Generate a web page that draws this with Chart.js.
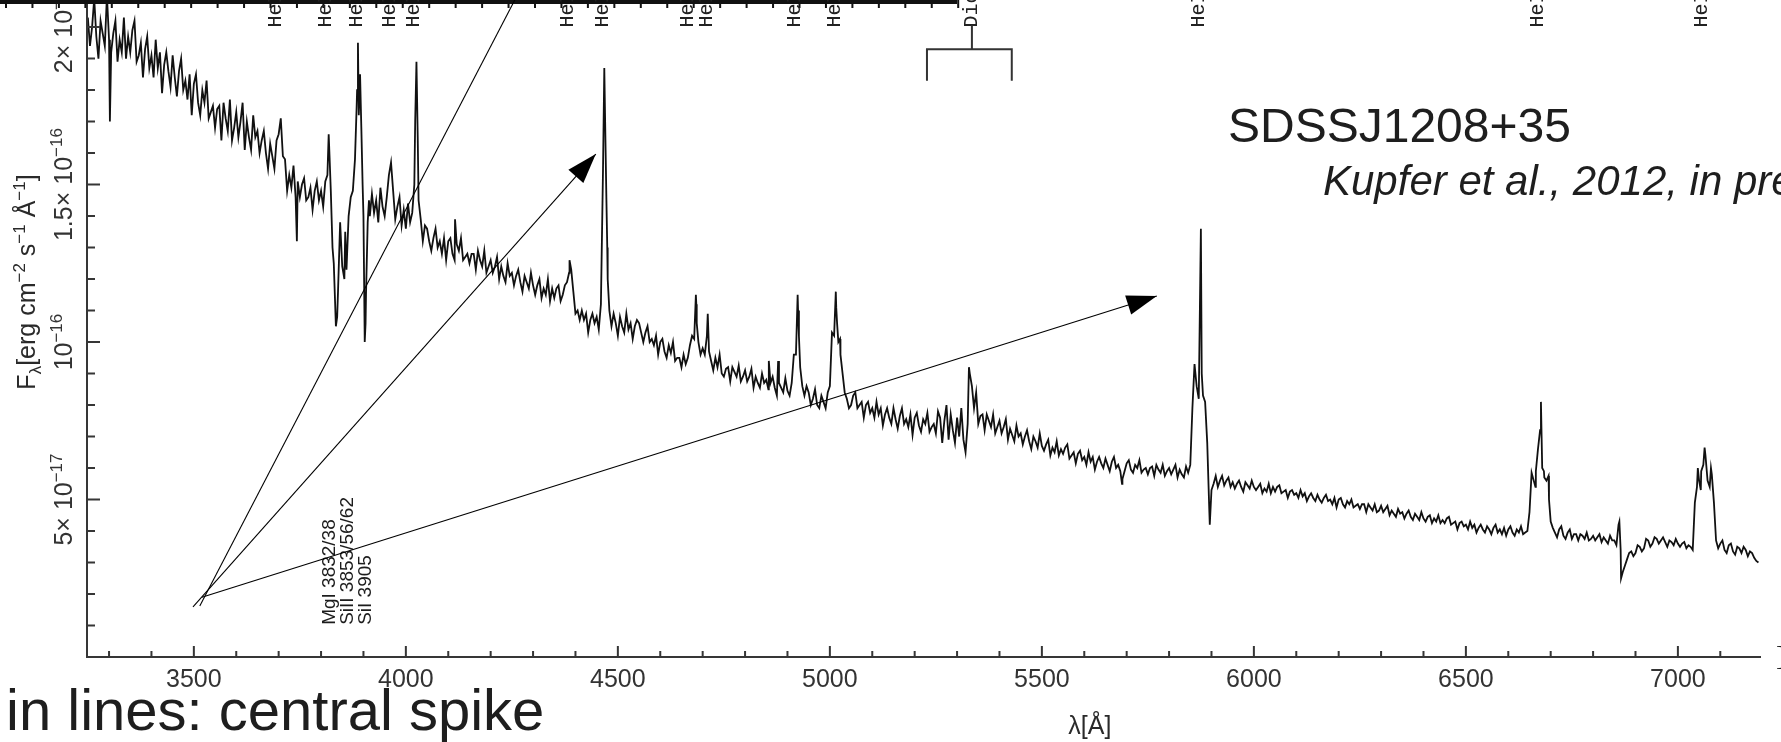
<!DOCTYPE html>
<html>
<head>
<meta charset="utf-8">
<script src="https://cdn.jsdelivr.net/npm/chart.js@4.4.1/dist/chart.umd.min.js"></script>
<style>
html, body { margin: 0; padding: 0; background: #fff; }
canvas { display: block; }
</style>
</head>
<body>
<canvas id="espectro" width="1781" height="742"></canvas>
<script>
// flux in units of 1e-17 erg cm^-2 s^-1 A^-1, one value every 5 A from 3250 A (20 per row = 100 A)
const waveStart = 3250;
const waveStep = 5;
const flux = [
  20.3, 19.4, 20.0, 20.9, 19.7, 19.0, 20.2, 19.8, 19.4, 21.0, 19.6, 19.2, 19.8, 20.2, 18.9, 19.6, 19.2, 20.3, 19.0, 19.7,
  19.2, 19.9, 20.2, 18.9, 19.1, 19.5, 18.4, 19.3, 19.7, 18.7, 19.1, 18.4, 19.6, 18.7, 19.2, 17.9, 18.8, 19.2, 18.6, 18.1,
  19.1, 18.4, 17.8, 18.6, 19.0, 18.0, 18.3, 17.7, 18.5, 17.2, 18.2, 18.5, 17.6, 17.2, 18.0, 17.6, 18.3, 17.1, 17.3, 17.5,
  16.8, 17.4, 17.5, 16.4, 17.6, 17.1, 16.7, 17.7, 16.4, 16.8, 17.3, 16.5, 17.0, 17.6, 16.1, 17.0, 16.5, 16.1, 17.2, 16.5,
  16.7, 16.0, 16.4, 16.7, 16.0, 15.5, 16.3, 15.9, 15.5, 16.4, 16.6, 17.1, 15.9, 15.8, 14.8, 15.3, 14.9, 15.6, 14.6, 15.1,
  14.6, 15.0, 15.2, 14.5, 14.6, 14.9, 14.2, 14.8, 15.1, 14.5, 14.8, 14.3, 15.1, 15.3, 15.9, 13.9, 12.5, 10.5, 11.6, 13.8,
  12.4, 12.0, 12.3, 14.0, 14.6, 14.8, 15.8, 18.0, 17.6, 16.8, 14.0, 10.6, 13.8, 14.0, 14.7, 14.1, 14.5, 13.8, 14.9, 14.3,
  14.0, 14.6, 15.3, 15.7, 14.8, 13.9, 14.3, 14.6, 13.7, 14.2, 13.6, 14.4, 13.8, 14.1, 15.0, 18.9, 14.5, 13.9, 13.2, 13.7,
  13.6, 13.2, 12.9, 13.3, 13.6, 13.0, 13.2, 12.8, 13.3, 12.6, 13.2, 13.3, 12.8, 12.6, 13.1, 12.9, 13.3, 12.6, 12.7, 12.8,
  12.5, 12.8, 12.8, 12.3, 12.9, 12.6, 12.4, 12.9, 12.2, 12.4, 12.6, 12.2, 12.4, 12.7, 12.0, 12.4, 12.1, 11.9, 12.5, 12.1,
  12.2, 11.8, 12.1, 12.3, 11.9, 11.6, 12.1, 11.9, 11.7, 12.2, 11.8, 11.5, 11.8, 12.0, 11.4, 11.7, 11.5, 12.0, 11.3, 11.7,
  11.4, 11.7, 11.8, 11.3, 11.5, 11.8, 11.9, 12.2, 12.3, 11.6, 10.9, 11.0, 10.7, 11.0, 10.7, 10.9, 10.3, 10.7, 10.9, 10.6,
  10.8, 10.4, 11.2, 15.5, 17.0, 13.0, 11.0, 10.5, 10.9, 10.6, 10.2, 10.8, 10.5, 10.3, 10.9, 10.4, 10.6, 10.1, 10.5, 10.7,
  10.6, 10.3, 10.0, 10.3, 10.5, 10.0, 10.1, 9.9, 10.2, 9.6, 10.0, 10.1, 9.7, 9.5, 9.9, 9.65, 10.0, 9.4, 9.5, 9.5,
  9.2, 9.6, 9.3, 9.5, 9.9, 10.2, 10.1, 11.2, 10.0, 9.6, 9.8, 9.6, 10.2, 9.7, 9.4, 9.1, 9.5, 9.2, 9.6, 9.0,
  8.9, 9.15, 9.2, 8.75, 9.2, 9.05, 8.9, 9.25, 8.75, 8.9, 9.1, 8.75, 8.9, 9.15, 8.55, 8.9, 8.7, 8.55, 9.0, 8.7,
  8.8, 8.5, 8.7, 8.9, 8.55, 8.3, 8.7, 8.55, 8.4, 8.85, 8.45, 8.3, 8.7, 9.6, 9.6, 11.0, 9.2, 8.6, 8.3, 8.6,
  8.4, 8.0, 8.2, 8.5, 8.0, 7.9, 8.3, 8.1, 7.9, 8.4, 8.6, 10.3, 10.2, 11.1, 10.0, 9.6, 9.0, 8.4, 8.2, 7.9,
  8.0, 8.3, 8.4, 7.9, 8.0, 8.1, 7.6, 8.0, 8.1, 7.75, 7.9, 7.6, 8.1, 7.7, 7.9, 7.35, 7.7, 7.9, 7.6, 7.4,
  7.9, 7.55, 7.25, 7.65, 7.9, 7.4, 7.55, 7.3, 7.7, 7.05, 7.6, 7.75, 7.35, 7.15, 7.55, 7.4, 7.75, 7.15, 7.3, 7.4,
  7.1, 7.8, 7.6, 6.8, 7.5, 8.0, 6.9, 7.7, 7.2, 6.8, 7.6, 7.0, 7.9, 6.9, 6.5, 7.4, 9.0, 8.6, 7.9, 8.4,
  7.4, 7.65, 7.7, 7.2, 7.7, 7.5, 7.3, 7.7, 7.1, 7.3, 7.5, 7.1, 7.3, 7.55, 6.9, 7.25, 7.05, 6.85, 7.35, 7.0,
  7.1, 6.75, 7.0, 7.2, 6.85, 6.6, 7.0, 6.85, 6.65, 7.1, 6.7, 6.55, 6.75, 6.9, 6.4, 6.65, 6.5, 6.85, 6.4, 6.6,
  6.45, 6.65, 6.75, 6.3, 6.4, 6.5, 6.15, 6.45, 6.55, 6.25, 6.35, 6.1, 6.5, 6.2, 6.35, 5.95, 6.2, 6.35, 6.15, 6.0,
  6.3, 6.1, 5.9, 6.2, 6.35, 6.0, 6.1, 5.9, 5.65, 5.9, 6.15, 6.25, 5.95, 5.85, 6.1, 6.0, 6.25, 5.85, 5.95, 6.0,
  5.8, 6.0, 6.05, 5.75, 6.1, 5.95, 5.85, 6.1, 5.75, 5.9, 6.0, 5.8, 5.95, 6.1, 5.7, 5.95, 5.8, 5.7, 6.05, 5.85,
  6.1, 7.9, 9.3, 8.6, 8.2, 13.6, 8.3, 8.1, 6.8, 4.6, 5.3, 5.5, 5.75, 5.4, 5.6, 5.75, 5.45, 5.6, 5.7, 5.4,
  5.55, 5.35, 5.5, 5.6, 5.4, 5.25, 5.55, 5.45, 5.35, 5.6, 5.4, 5.3, 5.4, 5.5, 5.2, 5.35, 5.25, 5.5, 5.2, 5.4,
  5.25, 5.4, 5.45, 5.2, 5.25, 5.3, 5.05, 5.25, 5.3, 5.15, 5.2, 5.05, 5.3, 5.1, 5.2, 4.95, 5.1, 5.2, 5.05, 4.95,
  5.15, 5.0, 4.9, 5.05, 5.15, 4.95, 5.0, 4.85, 5.05, 4.75, 5.0, 5.05, 4.85, 4.75, 4.95, 4.85, 5.0, 4.75, 4.8, 4.85,
  4.7, 4.85, 4.85, 4.6, 4.85, 4.75, 4.65, 4.85, 4.6, 4.65, 4.8, 4.6, 4.7, 4.8, 4.5, 4.65, 4.55, 4.45, 4.7, 4.55,
  4.6, 4.4, 4.55, 4.65, 4.45, 4.35, 4.55, 4.45, 4.35, 4.6, 4.4, 4.3, 4.45, 4.5, 4.25, 4.4, 4.3, 4.5, 4.25, 4.35,
  4.25, 4.4, 4.45, 4.2, 4.25, 4.3, 4.05, 4.25, 4.3, 4.15, 4.2, 4.05, 4.3, 4.1, 4.2, 3.95, 4.1, 4.2, 4.05, 3.95,
  4.15, 4.05, 3.9, 4.1, 4.2, 3.95, 4.05, 3.9, 4.1, 3.85, 4.05, 4.15, 3.95, 3.85, 4.05, 3.95, 4.15, 3.9, 3.95, 4.0,
  4.6, 5.85, 5.6, 5.9, 6.6, 7.2, 6.0, 5.7, 5.6, 5.75, 4.3, 4.1, 3.95, 3.8, 4.05, 4.15, 3.85, 3.75, 3.95, 4.05,
  3.75, 3.9, 3.9, 3.7, 3.9, 3.85, 3.75, 3.95, 3.7, 3.75, 3.85, 3.7, 3.8, 3.9, 3.65, 3.8, 3.7, 3.6, 3.85, 3.7,
  3.7, 3.55, 4.2, 3.4, 2.7, 2.9, 3.1, 3.3, 3.35, 3.2, 3.3, 3.55, 3.5, 3.35, 3.45, 3.75, 3.7, 3.5, 3.6, 3.8,
  3.75, 3.6, 3.7, 3.8, 3.65, 3.5, 3.7, 3.65, 3.55, 3.75, 3.6, 3.5, 3.6, 3.65, 3.45, 3.55, 3.5, 3.4, 4.9, 5.4,
  5.6, 5.9, 6.1, 6.4, 5.6, 5.4, 5.8, 4.9, 3.7, 3.45, 3.6, 3.7, 3.4, 3.3, 3.55, 3.6, 3.35, 3.25, 3.5, 3.45,
  3.3, 3.5, 3.4, 3.2, 3.35, 3.3, 3.15, 3.05, 3.0
];

// narrow emission / absorption structure between the 5 A samples
const lineWave = [3302, 3743, 3818, 3823, 3827, 3838, 3857, 3884, 3887, 3889, 3892, 3898, 3903,
  3906, 3913, 4022, 4028, 4116, 4386, 4468, 4473, 4476, 4684, 4686, 4712, 4856, 4878, 4924, 4927,
  5014, 5017, 5024, 5328, 5689, 5877, 5896, 6664, 6677, 6684, 6696, 6862, 6866,
  7047, 7054, 7063, 7078];
const lineFlux = [17.0, 13.2, 16.6, 14.8, 13.0, 10.8, 13.5, 17.5, 19.5, 17.2, 18.5, 15.0, 10.0,
  11.5, 14.5, 17.0, 16.5, 13.9, 12.6, 18.7, 14.5, 12.0, 11.5, 10.6, 10.9, 9.4, 9.4, 11.5, 10.2,
  11.6, 10.6, 10.1, 9.2, 5.5, 9.0, 4.2, 5.4, 8.1, 5.9, 5.0, 4.3, 2.5,
  6.0, 5.3, 6.65, 6.0];

const xTicks = [3500, 4000, 4500, 5000, 5500, 6000, 6500, 7000];
const yTicks = [5, 10, 15, 20];
const yTickText = [['5× 10', '−17'], ['10', '−16'], ['1.5× 10', '−16'], ['2× 10', '−16']];

// line identifications along the top
const idWave = [3693, 3811, 3884, 3962, 4019, 4382, 4465, 4665, 4710, 4917, 5012, 5870, 6670, 7057];
const idText = ['HeI', 'HeI', 'HeI', 'HeI', 'HeI', 'HeI', 'HeI', 'HeII', 'HeI', 'HeI', 'HeI', 'HeI', 'HeI', 'HeI'];
const metalWave = [3821, 3863, 3906];
const metalText = ['MgI 3832/38', 'SiII 3853/56/62', 'SiI 3905'];

// arrows pointing at the central spikes
const arrowFrom = [[3514, 1.62], [3498, 1.59], [3519, 1.90]];
const arrowTo = [[4270, 21.2], [4448, 15.97], [5771, 11.46]];
const arrowHead = [false, true, true];

const dichroic = { stem: 5335, left: 5229, right: 5429, top: 20.06, bar: 19.3, foot: 18.3 };

const spectrum = flux.map((f, i) => ({ x: waveStart + i * waveStep, y: f }))
  .concat(lineWave.map((w, i) => ({ x: w, y: lineFlux[i] })))
  .sort((a, b) => a.x - b.x);

const SANS = '"Liberation Sans", Arial, sans-serif';

function richText(ctx, parts, x, y, align) {
  // text turned 90 degrees counter-clockwise, parts = [text, size, shift]
  let total = 0;
  for (const p of parts) {
    ctx.font = p[1] + 'px ' + SANS;
    total += ctx.measureText(p[0]).width;
  }
  ctx.save();
  ctx.translate(x, y);
  ctx.rotate(-Math.PI / 2);
  ctx.textAlign = 'left';
  ctx.textBaseline = 'alphabetic';
  let cx = align === 'center' ? -total / 2 : 0;
  for (const p of parts) {
    ctx.font = p[1] + 'px ' + SANS;
    ctx.fillText(p[0], cx, p[2] || 0);
    cx += ctx.measureText(p[0]).width;
  }
  ctx.restore();
}

function arrow(ctx, x0, y0, x1, y1, head) {
  ctx.beginPath();
  ctx.moveTo(x0, y0);
  ctx.lineTo(x1, y1);
  ctx.stroke();
  if (!head) return;
  const ang = Math.atan2(y1 - y0, x1 - x0);
  const len = 30, half = 10;
  const bx = x1 - len * Math.cos(ang), by = y1 - len * Math.sin(ang);
  ctx.beginPath();
  ctx.moveTo(x1, y1);
  ctx.lineTo(bx + half * Math.sin(ang), by - half * Math.cos(ang));
  ctx.lineTo(bx - half * Math.sin(ang), by + half * Math.cos(ang));
  ctx.closePath();
  ctx.fill();
}

const decor = {
  id: 'decor',
  afterDatasetsDraw(chart) {
    const ctx = chart.ctx;
    const a = chart.chartArea;
    const px = v => chart.scales.x.getPixelForValue(v);
    const py = v => chart.scales.y.getPixelForValue(v);
    ctx.save();

    // axes with inward ticks
    ctx.strokeStyle = '#363636';
    ctx.lineWidth = 2;
    ctx.beginPath();
    ctx.moveTo(a.left, a.top);
    ctx.lineTo(a.left, a.bottom);
    ctx.lineTo(a.right, a.bottom);
    ctx.stroke();
    ctx.beginPath();
    for (let w = 3300; w <= 7100; w += 100) {
      const len = w % 500 === 0 ? 11 : 6;
      ctx.moveTo(px(w), a.bottom);
      ctx.lineTo(px(w), a.bottom - len);
    }
    for (let f = 1; f <= 20; f++) {
      const len = f % 5 === 0 ? 13 : 8;
      ctx.moveTo(a.left, py(f));
      ctx.lineTo(a.left + len, py(f));
    }
    ctx.stroke();

    // tick labels
    ctx.fillStyle = '#333';
    ctx.font = '25px ' + SANS;
    ctx.textAlign = 'center';
    ctx.textBaseline = 'alphabetic';
    xTicks.forEach(w => ctx.fillText(String(w), px(w), a.bottom + 30));
    yTicks.forEach((f, i) => {
      richText(ctx, [[yTickText[i][0], 25, 0], [yTickText[i][1], 17, -10]], 72, py(f), 'center');
    });

    // axis titles
    ctx.fillStyle = '#2a2a2a';
    ctx.font = '25px ' + SANS;
    ctx.textAlign = 'center';
    ctx.fillText('λ[Å]', px(5613), 734);
    richText(ctx, [
      ['F', 25, 0], ['λ', 17, 6], ['[erg cm', 25, 0], ['−2', 17, -10],
      [' s', 25, 0], ['−1', 17, -10], [' Å', 25, 0], ['−1', 17, -10], [']', 25, 0]
    ], 35, 282, 'center');

    // axis of the panel above
    ctx.fillStyle = '#111';
    ctx.fillRect(0, 0, 957, 4);
    for (let k = 0; k <= 36; k++) ctx.fillRect(5 + k * 26.45, 0, 2, 8);

    // line identifications
    ctx.fillStyle = '#222';
    ctx.font = '20px "Liberation Mono", monospace';
    ctx.textAlign = 'left';
    ctx.textBaseline = 'middle';
    idWave.forEach((w, i) => {
      ctx.save();
      ctx.translate(px(w), py(19.99));
      ctx.rotate(-Math.PI / 2);
      ctx.fillText(idText[i], 0, 0);
      ctx.restore();
    });
    ctx.save();
    ctx.translate(px(dichroic.stem), py(19.99));
    ctx.rotate(-Math.PI / 2);
    ctx.fillText('Dichroic', 0, 0);
    ctx.restore();

    ctx.strokeStyle = '#333';
    ctx.lineWidth = 2;
    ctx.beginPath();
    ctx.moveTo(px(dichroic.stem), py(dichroic.top));
    ctx.lineTo(px(dichroic.stem), py(dichroic.bar));
    ctx.moveTo(px(dichroic.left), py(dichroic.foot));
    ctx.lineTo(px(dichroic.left), py(dichroic.bar));
    ctx.lineTo(px(dichroic.right), py(dichroic.bar));
    ctx.lineTo(px(dichroic.right), py(dichroic.foot));
    ctx.stroke();

    ctx.fillStyle = '#1c1c1c';
    ctx.font = '19px ' + SANS;
    metalWave.forEach((w, i) => {
      ctx.save();
      ctx.translate(px(w), py(1.02));
      ctx.rotate(-Math.PI / 2);
      ctx.fillText(metalText[i], 0, 0);
      ctx.restore();
    });

    // arrows
    ctx.strokeStyle = '#000';
    ctx.fillStyle = '#000';
    ctx.lineWidth = 1.1;
    arrowFrom.forEach((p, i) => {
      arrow(ctx, px(p[0]), py(p[1]), px(arrowTo[i][0]), py(arrowTo[i][1]), arrowHead[i]);
    });

    // slide text
    ctx.fillStyle = '#1e1e1e';
    ctx.textBaseline = 'alphabetic';
    ctx.textAlign = 'left';
    ctx.font = '48px ' + SANS;
    ctx.fillText('SDSSJ1208+35', 1228, 142);
    ctx.font = 'italic 42px ' + SANS;
    ctx.fillText('Kupfer et al., 2012, in prep.', 1323, 195);
    ctx.font = '58px ' + SANS;
    ctx.fillText('in lines: central spike', 6, 730);
    ctx.font = '28px "Liberation Serif", serif';
    ctx.fillText(']', 1776, 665);

    ctx.restore();
  }
};

new Chart(document.getElementById('espectro'), {
  type: 'line',
  data: {
    datasets: [{
      data: spectrum,
      borderColor: '#111',
      borderWidth: 1.8,
      pointRadius: 0,
      tension: 0
    }]
  },
  options: {
    responsive: false,
    animation: false,
    devicePixelRatio: 1,
    layout: { padding: { left: 87, right: 20, top: 0, bottom: 85 } },
    scales: {
      x: { type: 'linear', min: 3248, max: 7196, display: false },
      y: { min: 0, max: 20.86, display: false }
    },
    plugins: {
      legend: { display: false },
      tooltip: { enabled: false }
    }
  },
  plugins: [decor]
});
</script>
</body>
</html>
